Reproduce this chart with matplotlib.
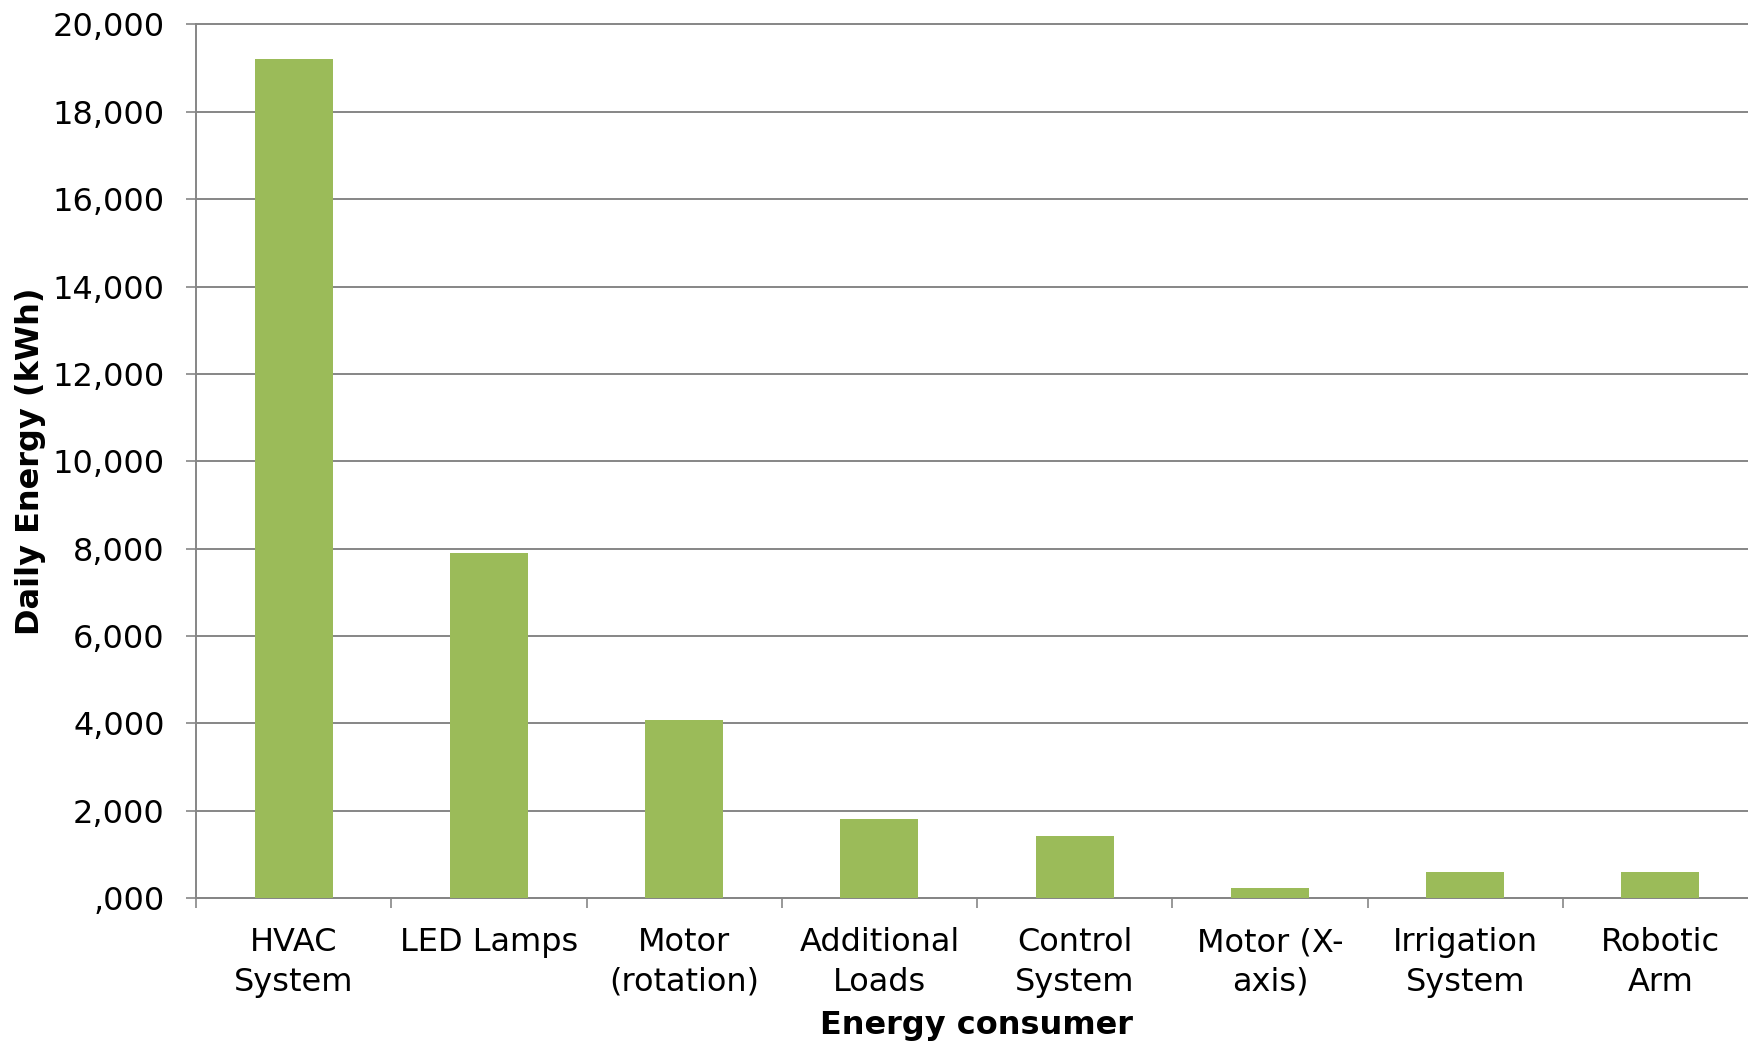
import numpy as np
import matplotlib
matplotlib.use("Agg")
import matplotlib.pyplot as plt

# data
categories = ["HVAC\nSystem", "LED Lamps", "Motor\n(rotation)", "Additional\nLoads",
              "Control\nSystem", "Motor (X-\naxis)", "Irrigation\nSystem", "Robotic\nArm"]
daily_energy = [19200, 7910, 4080, 1800, 1430, 240, 590, 590]
y_ticks = [0, 2000, 4000, 6000, 8000, 10000, 12000, 14000, 16000, 18000, 20000]
y_tick_labels = [",000", "2,000", "4,000", "6,000", "8,000", "10,000",
                 "12,000", "14,000", "16,000", "18,000", "20,000"]

bar_color = "#9BBB59"
axis_gray = "#868686"

plt.rcParams["font.family"] = ["DejaVu Sans"]

fig = plt.figure(figsize=(17.48, 10.45), dpi=100)
# axes placed by pixel measurements from the reference
left, right = 196 / 1748, 1758 / 1748
bottom, top = 1 - 898 / 1045, 1 - 24.5 / 1045
ax = fig.add_axes([left, bottom, right - left, top - bottom])

x = np.arange(len(categories))
ax.bar(x, daily_energy, width=0.4, color=bar_color, zorder=3)

ax.set_xlim(-0.5, len(categories) - 0.5)
ax.set_ylim(0, 20000)

ax.set_yticks(y_ticks)
ax.set_yticklabels(y_tick_labels)
ax.set_xticks(x)
ax.set_xticklabels(categories, linespacing=1.35)
ax.set_xticks(np.arange(len(categories) + 1) - 0.5, minor=True)

ax.tick_params(axis="y", which="major", length=7.5, width=1.2, color=axis_gray,
               pad=15, labelsize=23)
ax.tick_params(axis="x", which="major", length=0, pad=21, labelsize=23)
ax.tick_params(axis="x", which="minor", length=7, width=1.2, color=axis_gray)

ax.grid(axis="y", color=axis_gray, linewidth=1.4, zorder=0)
ax.set_axisbelow(True)
for gl in ax.get_ygridlines():
    gl.set_clip_on(False)

for side in ["top", "right"]:
    ax.spines[side].set_visible(False)
for side in ["left", "bottom"]:
    ax.spines[side].set_color(axis_gray)
    ax.spines[side].set_linewidth(1.4)

ax.set_xlabel("Energy consumer", fontsize=23, fontweight="bold")
ax.set_ylabel("Daily Energy (kWh)", fontsize=23, fontweight="bold")
ax.xaxis.set_label_coords(0.5, -0.128)
ax.yaxis.set_label_coords(-0.096, 0.5)

fig.savefig("out.png", dpi=100)
